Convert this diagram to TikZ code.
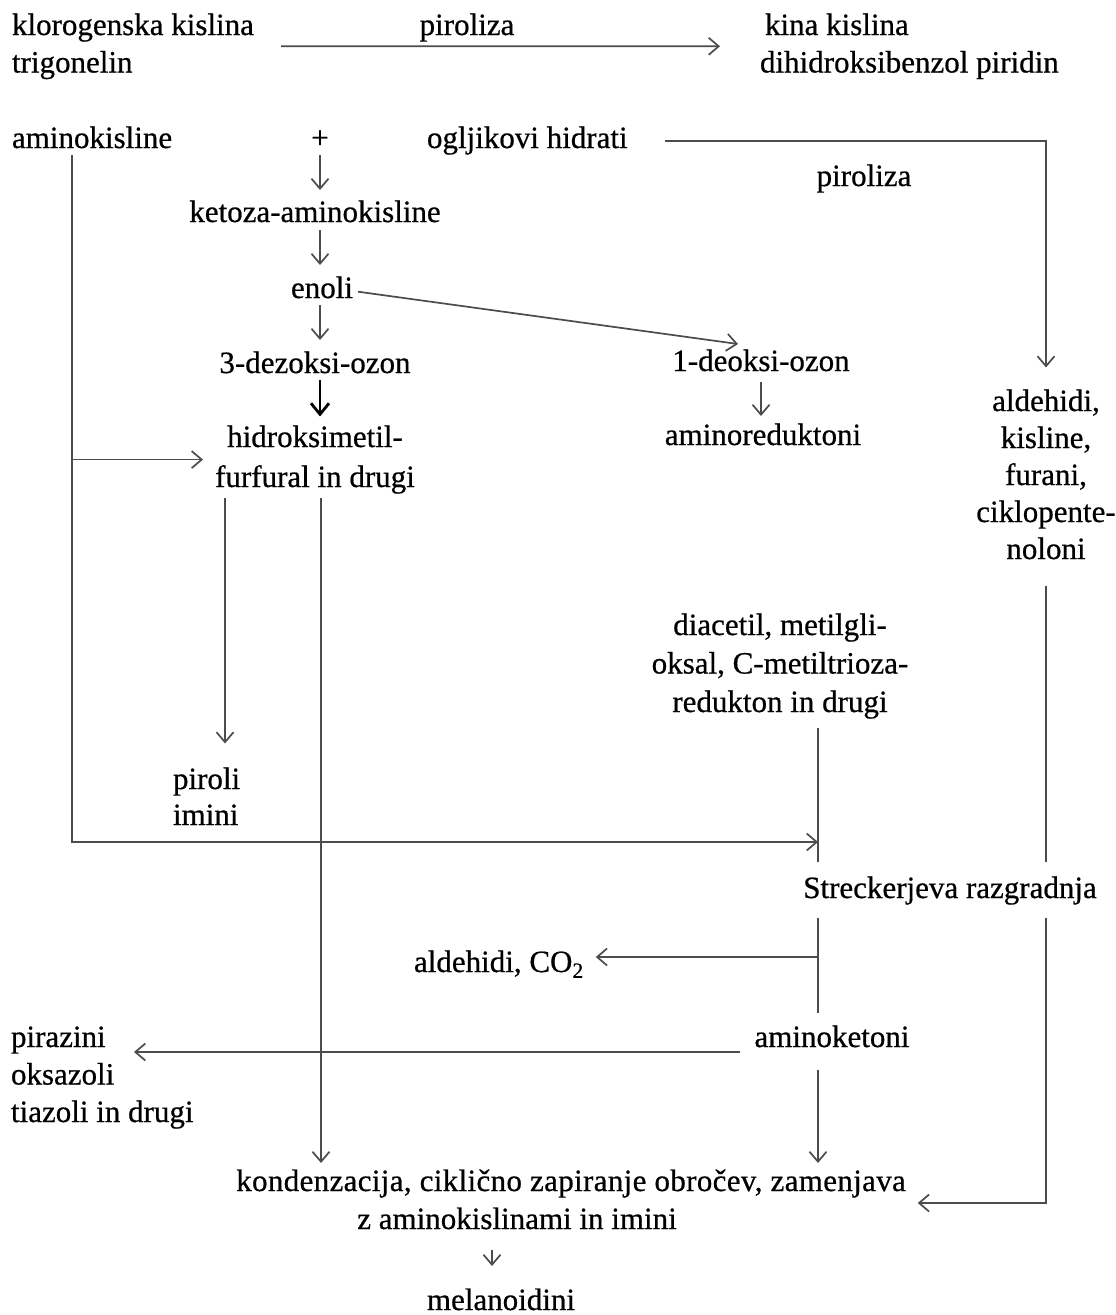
\documentclass[tikz,border=0pt]{standalone}
\usepackage{fontspec}
\setmainfont{Liberation Serif}[UprightFeatures={FakeBold=0.6}]
\usetikzlibrary{arrows.meta}
\begin{document}
\begin{tikzpicture}[x=1pt,y=-1pt,
  every node/.style={inner sep=0pt, outer sep=0pt, font=\fontsize{31}{37.5}\selectfont},
  lab/.style={text height=21pt, text depth=7pt},
  ln/.style={line width=1.7pt, draw=black!70},
  arr/.style={ln, -{Straight Barb[length=10pt,width=17pt]}},
  boldarr/.style={line width=2.8pt, draw=black, -{Straight Barb[length=11pt,width=18pt]}}]

\fill[white] (0,0) rectangle (1116,1315);
\useasboundingbox (0,0) rectangle (1116,1315);

% ---------- texts ----------
\node[anchor=base west, text width=269pt, align=flush left] (klor) at (12,35) {klorogenska kislina\\trigonelin};
\node[anchor=base, lab] (pir1) at (467,35) {piroliza};
\node[anchor=base west, text width=340pt, align=flush left] (kina) at (760,35) {\hspace*{5pt}kina kislina\\dihidroksibenzol piridin};

\node[anchor=base west, lab] (amino) at (12,148) {aminokisline};
\node[anchor=base, lab] (plus) at (320,148) {+};
\node[anchor=base west, lab] (oglj) at (427,148) {ogljikovi hidrati};
\node[anchor=base, lab] (pir2) at (864,186) {piroliza};

\node[anchor=base, lab] (ket) at (315,222) {ketoza-aminokisline};
\node[anchor=base, lab] (enoli) at (322,298) {enoli};
\node[anchor=base, lab] (dez) at (315,373) {3-dezoksi-ozon};
\node[anchor=base, lab] (deo) at (761,371) {1-deoksi-ozon};
\node[anchor=base, text width=210pt, align=flush center, font=\fontsize{31}{40}\selectfont] (hmf) at (315,447) {hidroksimetil-\\furfural in drugi};
\node[anchor=base, lab] (ared) at (763,445) {aminoreduktoni};
\node[anchor=base, text width=145pt, align=flush center, font=\fontsize{31}{37}\selectfont] (ald) at (1046,411) {aldehidi,\\kisline,\\furani,\\ciklopente-\\noloni};

\node[anchor=base west, text width=104pt, align=flush left, font=\fontsize{31}{36}\selectfont] (pirol) at (173,789) {piroli\\imini};
\node[anchor=base, text width=280pt, align=flush center, font=\fontsize{31}{38.5}\selectfont] (diac) at (780,635) {diacetil, metilgli-\\oksal, C-metiltrioza-\\redukton in drugi};
\node[anchor=base, lab] (str) at (950,898) {Streckerjeva razgradnja};
\node[anchor=base west, lab] (aldco) at (414,972) {aldehidi, CO\textsubscript{2}};
\node[anchor=base, lab] (amk) at (832,1047) {aminoketoni};
\node[anchor=base west, text width=200pt, align=flush left, font=\fontsize{31}{37.5}\selectfont] (pir) at (11,1047) {pirazini\\oksazoli\\tiazoli in drugi};
\node[anchor=base, lab, font=\fontsize{31}{37.5}\selectfont\addfontfeatures{LetterSpace=1.1}] (kond1) at (571,1191) {kondenzacija, ciklično zapiranje obročev, zamenjava};
\node[anchor=base, lab] (kond2) at (517,1229) {z aminokislinami in imini};
\node[anchor=base, text height=21pt, text depth=0pt] (mel) at (501,1310) {melanoidini};

% ---------- helper coordinates ----------
\coordinate (aTop) at ([xshift=-20pt]amino.south);
\coordinate (sJ) at (818,842);
\coordinate (h2) at ([xshift=6pt]hmf.south);
\coordinate (aldIn) at ([yshift=8pt]aldco.east);
\coordinate (amkOut) at ([yshift=-12pt]amk.west);
\coordinate (pirIn) at ([xshift=123pt]pir.west |- amkOut);
\coordinate (kondIn) at ([yshift=-19pt]kond1.east);
\coordinate (m1) at ([xshift=-25pt]kond2.south);

% ---------- connectors ----------
\draw[arr, shorten >=40pt] (klor.east) -- (kina.west);
\draw[arr, shorten >=22pt] ([xshift=37pt]oglj.east) -| (ald.north);

\draw[arr, shorten >=11pt] (plus.south) -- (plus.south |- ket.north);
\draw[arr, shorten <=1pt, shorten >=12pt] (ket.south -| plus.south) -- (enoli.north -| plus.south);
\draw[arr, shorten >=12pt] (enoli.south -| plus.south) -- (dez.north -| plus.south);
\draw[boldarr, shorten >=9pt] (dez.south -| plus.south) -- (hmf.north -| plus.south);

\draw[arr, shorten <=5pt] (enoli.east) -- ([xshift=-23pt,yshift=6pt]deo.north);
\draw[arr, shorten <=4pt, shorten >=8pt] (deo.south) -- (ared.north -| deo.south);

\draw[arr] (aTop) |- (sJ);
\draw[arr, shorten >=7pt] (aTop |- hmf.west) -- (hmf.west);

\draw[arr, shorten <=4pt, shorten >=24pt] (hmf.south -| pirol.north) -- (pirol.north);
\draw[arr, shorten <=4pt, shorten >=7pt] (h2) -- (h2 |- kond1.north);

\draw[ln, shorten <=9pt, shorten >=15pt] (diac.south -| sJ) -- (str.north -| sJ);
\draw[ln, shorten <=13pt, shorten >=13pt] (str.south -| sJ) -- (amk.north -| sJ);
\draw[arr, shorten >=12pt] (sJ |- aldIn) -- (aldIn);
\draw[arr, shorten <=15pt] (amkOut) -- (pirIn);
\draw[arr, shorten <=16pt, shorten >=7pt] (amk.south -| sJ) -- (kond1.north -| sJ);

\draw[ln, shorten <=27pt, shorten >=15pt] (ald.south) -- (str.north -| ald.south);
\draw[arr, shorten <=13pt, shorten >=12pt] (str.south -| ald.south) |- (kondIn);

\draw[arr, shorten <=14pt, shorten >=23pt] (m1) -- (m1 |- mel.north);
\end{tikzpicture}
\end{document}
